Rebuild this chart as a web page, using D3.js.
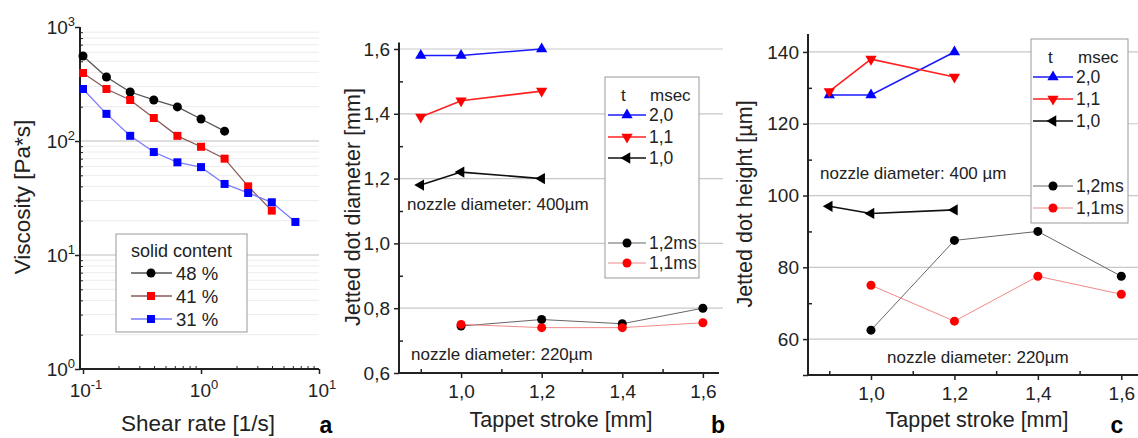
<!DOCTYPE html>
<html>
<head>
<meta charset="utf-8">
<script src="https://cdn.jsdelivr.net/npm/d3@7"></script>
<style>
  body { margin: 0; background: #fff; }
  svg { font-family: "Liberation Sans", Arial, sans-serif; }
</style>
</head>
<body>
<script>
const width = 1138;
const height = 438;

// panel a: viscosity vs shear rate
const shearRates = [0.1, 0.158, 0.251, 0.398, 0.631, 1.0, 1.585, 2.51, 3.98, 6.31];
const visc48 = [557, 364, 269, 229, 199, 156, 122];
const visc41 = [395, 286, 229, 159, 111, 89, 70, 40, 24.5];
const visc31 = [286, 173, 111, 80, 65, 59, 42, 35, 29, 19.5];
const viscTicks = [1, 10, 100, 1000];
const shearTicks = [0.1, 1, 10];

// panel b: jetted dot diameter
const strokeBig = [0.9, 1.0, 1.2];
const strokeSmall = [1.0, 1.2, 1.4, 1.6];
const diam20 = [1.58, 1.58, 1.60];
const diam11 = [1.39, 1.44, 1.47];
const diam10 = [1.18, 1.22, 1.20];
const diam12ms = [0.745, 0.765, 0.752, 0.80];
const diam11ms = [0.75, 0.74, 0.74, 0.755];
const diamTicks = [0.6, 0.8, 1.0, 1.2, 1.4, 1.6];

// panel c: jetted dot height
const height20 = [128, 128, 140];
const height11 = [129, 138, 133];
const height10 = [97, 95, 96];
const height12ms = [62.5, 87.5, 90, 77.5];
const height11ms = [75, 65, 77.5, 72.5];
const heightTicks = [60, 80, 100, 120, 140];
const strokeTicks = [1.0, 1.2, 1.4, 1.6];

const svg = d3.select("body").append("svg")
  .attr("width", width)
  .attr("height", height);

const comma = (d) => d3.format(".1f")(d).replace(".", ",");

function marker(g, type, x, y, color) {
  if (type === "circle") {
    g.append("circle").attr("cx", x).attr("cy", y).attr("r", 4.5).attr("fill", color);
  } else if (type === "square") {
    g.append("rect").attr("x", x - 4).attr("y", y - 4).attr("width", 8).attr("height", 8).attr("fill", color);
  } else {
    const rot = type === "up" ? 0 : type === "down" ? 180 : -90;
    g.append("path")
      .attr("d", d3.symbol(d3.symbolTriangle, 55)())
      .attr("transform", `translate(${x},${y}) rotate(${rot})`)
      .attr("fill", color);
  }
}

function series(g, x, y, xs, ys, lineColor, lineWidth, type, color) {
  const pts = ys.map((v, i) => [x(xs[i]), y(v)]);
  g.append("path")
    .attr("d", d3.line()(pts))
    .attr("fill", "none")
    .attr("stroke", lineColor)
    .attr("stroke-width", lineWidth);
  pts.forEach((p) => marker(g, type, p[0], p[1], color));
}

function styleAxis(ax) {
  ax.select(".domain").attr("stroke", "#222").attr("stroke-width", 2);
  ax.selectAll(".tick line").attr("stroke", "#222").attr("stroke-width", 1.5);
  ax.selectAll("text").attr("fill", "#222").style("font-size", "19px");
}

/* ---------- panel a ---------- */
const xa = d3.scaleLog().domain([0.0943, 10]).range([80, 319]);
const ya = d3.scaleLog().domain([1, 1000]).range([369, 27]);
const ga = svg.append("g");

const minorY = [];
[1, 10, 100].forEach((d) => { for (let k = 2; k <= 9; k++) minorY.push(d * k); });
ga.append("g").selectAll("line").data(minorY).join("line")
  .attr("x1", 80).attr("x2", 319)
  .attr("y1", (d) => ya(d)).attr("y2", (d) => ya(d))
  .attr("stroke", "#ececec");
ga.append("g").selectAll("line").data([10, 100]).join("line")
  .attr("x1", 80).attr("x2", 319)
  .attr("y1", (d) => ya(d)).attr("y2", (d) => ya(d))
  .attr("stroke", "#bdbdbd");

const minorX = [];
[0.1, 1].forEach((d) => { for (let k = 2; k <= 9; k++) minorX.push(d * k); });

const axA = ga.append("g").attr("transform", "translate(80,0)")
  .call(d3.axisLeft(ya).tickValues(viscTicks).tickFormat("").tickSize(5));
styleAxis(axA);
axA.select(".domain").attr("d", `M0,${ya(1)}V${ya(1000)}`);
ga.append("g").attr("transform", "translate(80,0)")
  .call(d3.axisRight(ya).tickValues(minorY).tickFormat("").tickSize(3))
  .call((g) => g.select(".domain").remove())
  .selectAll("line").attr("stroke", "#222");
ga.selectAll(".ylab").data(viscTicks).join("text")
  .attr("x", 75).attr("y", (d) => ya(d) + 7)
  .attr("text-anchor", "end").style("font-size", "19px").attr("fill", "#222")
  .each(function (d) {
    const t = d3.select(this);
    t.append("tspan").text("10");
    t.append("tspan").attr("dy", -8).style("font-size", "13px").text(Math.round(Math.log10(d)));
  });

const axAx = ga.append("g").attr("transform", "translate(0,369)")
  .call(d3.axisBottom(xa).tickValues(shearTicks).tickFormat("").tickSize(5));
styleAxis(axAx);
axAx.select(".domain").attr("d", "M80,0H319");
ga.append("g").attr("transform", "translate(0,369)")
  .call(d3.axisTop(xa).tickValues(minorX).tickFormat("").tickSize(3))
  .call((g) => g.select(".domain").remove())
  .selectAll("line").attr("stroke", "#222");
ga.selectAll(".xlab").data(shearTicks).join("text")
  .attr("x", (d) => xa(d) + 3).attr("y", 397)
  .attr("text-anchor", "middle").style("font-size", "19px").attr("fill", "#222")
  .each(function (d) {
    const t = d3.select(this);
    t.append("tspan").text("10");
    t.append("tspan").attr("dy", -8).style("font-size", "13px").text(Math.round(Math.log10(d)));
  });

series(ga, xa, ya, shearRates, visc48, "#555", 1.3, "circle", "#000");
series(ga, xa, ya, shearRates, visc41, "#8a5a5a", 1.3, "square", "#f00");
series(ga, xa, ya, shearRates, visc31, "#7b7bff", 1.3, "square", "#00f");

ga.append("text").attr("transform", "translate(30,197) rotate(-90)")
  .attr("text-anchor", "middle").style("font-size", "22.5px").attr("fill", "#222")
  .text("Viscosity [Pa*s]");
ga.append("text").attr("x", 198).attr("y", 431)
  .attr("text-anchor", "middle").style("font-size", "22.5px").attr("fill", "#222")
  .text("Shear rate [1/s]");
ga.append("text").attr("x", 326).attr("y", 433)
  .attr("text-anchor", "middle").style("font-size", "23px").style("font-weight", "bold")
  .text("a");

const legA = ga.append("g");
legA.append("rect").attr("x", 116).attr("y", 234).attr("width", 131).attr("height", 98)
  .attr("fill", "#fff").attr("stroke", "#999");
legA.append("text").attr("x", 131).attr("y", 257).style("font-size", "18px").attr("fill", "#222")
  .text("solid content");
[["48 %", "#555", "circle", "#000"], ["41 %", "#8a5a5a", "square", "#f00"], ["31 %", "#7b7bff", "square", "#00f"]]
  .forEach((r, i) => {
    const y = 273 + i * 23;
    legA.append("line").attr("x1", 131).attr("x2", 172).attr("y1", y).attr("y2", y)
      .attr("stroke", r[1]).attr("stroke-width", 1.3);
    marker(legA, r[2], 151, y, r[3]);
    legA.append("text").attr("x", 176).attr("y", y + 7).style("font-size", "18.5px").attr("fill", "#222").text(r[0]);
  });

/* ---------- panels b and c ---------- */
function stroke_panel(cfg) {
  const g = svg.append("g");
  const x = d3.scaleLinear().domain(cfg.xDomain).range(cfg.xRange);
  const y = d3.scaleLinear().domain(cfg.yDomain).range(cfg.yRange);
  const left = cfg.xRange[0];
  const bottom = cfg.yRange[0];

  g.append("g").selectAll("line").data(cfg.yTicks.slice(1)).join("line")
    .attr("x1", left).attr("x2", cfg.gridEnd)
    .attr("y1", (d) => y(d)).attr("y2", (d) => y(d))
    .attr("stroke", "#c8c8c8").attr("stroke-width", 1.2);

  const ay = g.append("g").attr("transform", `translate(${left},0)`)
    .call(d3.axisLeft(y).tickValues(cfg.yTicks).tickFormat(cfg.yFormat).tickSize(5).tickPadding(4));
  styleAxis(ay);
  ay.select(".domain").attr("d", `M0,${cfg.yRange[0]}V${cfg.yRange[1]}`);
  g.append("g").attr("transform", `translate(${left},0)`)
    .call(d3.axisRight(y).tickValues(cfg.yMinor).tickFormat("").tickSize(4))
    .call((s) => s.select(".domain").remove())
    .selectAll("line").attr("stroke", "#222").attr("stroke-width", 1.5);

  const ax = g.append("g").attr("transform", `translate(0,${bottom})`)
    .call(d3.axisBottom(x).tickValues(strokeTicks).tickFormat(comma).tickSize(5).tickPadding(7));
  styleAxis(ax);
  ax.select(".domain").attr("d", `M${left},0H${cfg.xRange[1]}`);
  g.append("g").attr("transform", `translate(0,${bottom})`)
    .call(d3.axisTop(x).tickValues([0.9, 1.1, 1.3, 1.5]).tickFormat("").tickSize(4))
    .call((s) => s.select(".domain").remove())
    .selectAll("line").attr("stroke", "#222").attr("stroke-width", 1.5);

  series(g, x, y, strokeSmall, cfg.s12ms, "#666", 1, "circle", "#000");
  series(g, x, y, strokeSmall, cfg.s11ms, "#f08a8a", 1, "circle", "#f00");
  series(g, x, y, strokeBig, cfg.s20, "#1a1aff", 1.6, "up", "#00f");
  series(g, x, y, strokeBig, cfg.s11, "#ff2020", 1.6, "down", "#f00");
  series(g, x, y, strokeBig, cfg.s10, "#111", 1.6, "left", "#000");

  cfg.notes.forEach((n) => {
    g.append("text").attr("x", n[0]).attr("y", n[1]).style("font-size", "17px").attr("fill", "#222").text(n[2]);
  });

  g.append("text").attr("transform", `translate(${cfg.yLabelX},${cfg.yLabelY}) rotate(-90)`)
    .attr("text-anchor", "middle").style("font-size", "21.5px").attr("fill", "#222")
    .text(cfg.yLabel);
  g.append("text").attr("x", cfg.xLabelX).attr("y", 427)
    .attr("text-anchor", "middle").style("font-size", "21.5px").attr("fill", "#222")
    .text("Tappet stroke [mm]");
  g.append("text").attr("x", cfg.letterX).attr("y", 433)
    .attr("text-anchor", "middle").style("font-size", "23px").style("font-weight", "bold")
    .text(cfg.letter);

  const L = cfg.legend;
  const lg = g.append("g");
  lg.append("rect").attr("x", L.x).attr("y", L.y).attr("width", L.w).attr("height", L.h)
    .attr("fill", "#fff").attr("stroke", "#999");
  lg.append("text").attr("x", L.tx).attr("y", L.rows[0] - 14).style("font-size", "17px").attr("fill", "#222").text("t");
  lg.append("text").attr("x", L.msx).attr("y", L.rows[0] - 14).style("font-size", "17px").attr("fill", "#222").text("msec");
  const items = [
    ["2,0", "#1a1aff", 1.6, "up", "#00f"],
    ["1,1", "#ff2020", 1.6, "down", "#f00"],
    ["1,0", "#111", 1.6, "left", "#000"],
    ["1,2ms", "#666", 1, "circle", "#000"],
    ["1,1ms", "#f08a8a", 1, "circle", "#f00"]
  ];
  items.forEach((it, i) => {
    const yy = L.rows[i];
    lg.append("line").attr("x1", L.lx1).attr("x2", L.lx2).attr("y1", yy).attr("y2", yy)
      .attr("stroke", it[1]).attr("stroke-width", it[2]);
    marker(lg, it[3], (L.lx1 + L.lx2) / 2, yy, it[4]);
    lg.append("text").attr("x", L.lx2 + 3).attr("y", yy + 6).style("font-size", "17.5px").attr("fill", "#222").text(it[0]);
  });
}

stroke_panel({
  xDomain: [0.846, 1.64], xRange: [399, 719],
  yDomain: [0.6, 1.62], yRange: [373, 42.5],
  gridEnd: 723,
  yTicks: diamTicks, yMinor: [0.7, 0.9, 1.1, 1.3, 1.5], yFormat: comma,
  s20: diam20, s11: diam11, s10: diam10, s12ms: diam12ms, s11ms: diam11ms,
  notes: [[407, 210, "nozzle diameter: 400µm"], [411, 360, "nozzle diameter: 220µm"]],
  yLabel: "Jetted dot diameter [mm]", yLabelX: 360, yLabelY: 207,
  xLabelX: 561, letter: "b", letterX: 718,
  legend: { x: 605, y: 77, w: 94, h: 201, tx: 621, msx: 650, lx1: 608, lx2: 646,
    rows: [115, 137, 158, 243, 263] }
});

stroke_panel({
  xDomain: [0.849, 1.64], xRange: [808, 1138],
  yDomain: [50, 145], yRange: [375, 34],
  gridEnd: 1138,
  yTicks: [50].concat(heightTicks), yMinor: [70, 90, 110, 130], yFormat: (d) => (d === 50 ? "" : d),
  s20: height20, s11: height11, s10: height10, s12ms: height12ms, s11ms: height11ms,
  notes: [[820, 179, "nozzle diameter: 400 µm"], [887, 363, "nozzle diameter: 220µm"]],
  yLabel: "Jetted dot height [µm]", yLabelX: 752, yLabelY: 204,
  xLabelX: 977, letter: "c", letterX: 1117,
  legend: { x: 1031, y: 39, w: 97, h: 184, tx: 1048, msx: 1078, lx1: 1033, lx2: 1073,
    rows: [77, 99, 121, 186, 208] }
});
</script>
</body>
</html>
